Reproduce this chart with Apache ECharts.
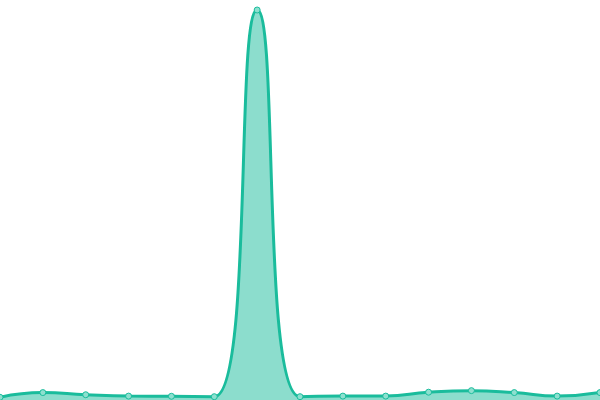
<!DOCTYPE html>
<html><head><meta charset="utf-8">
<script src="https://cdn.jsdelivr.net/npm/echarts@6/dist/echarts.min.js"></script>
<style>html,body{margin:0;padding:0;background:#fff}#c{width:600px;height:400px}</style>
</head><body><div id="c"></div>
<script>
const categories = ['1','2','3','4','5','6','7','8','9','10','11','12','13','14','15'];
const values = [0.7, 1.9, 1.35, 1.0, 0.95, 0.85, 100, 0.85, 1.0, 1.0, 2.0, 2.4, 1.9, 1.0, 1.9];
const chart = echarts.init(document.getElementById('c'));
chart.setOption({
  animation: false,
  grid: { left: 0, right: 0, top: 10, bottom: 0 },
  xAxis: { type: 'category', data: categories, boundaryGap: false, show: false },
  yAxis: { type: 'value', min: 0, max: 100, show: false },
  series: [{
    type: 'line', data: values, smooth: true,
    symbol: 'circle', symbolSize: 6,
    lineStyle: { color: '#1abc9c', width: 3 },
    itemStyle: { color: '#8de0cf', borderColor: '#1abc9c', borderWidth: 1 },
    areaStyle: { color: '#1abc9c', opacity: 0.5 }
  }]
});
</script></body></html>
